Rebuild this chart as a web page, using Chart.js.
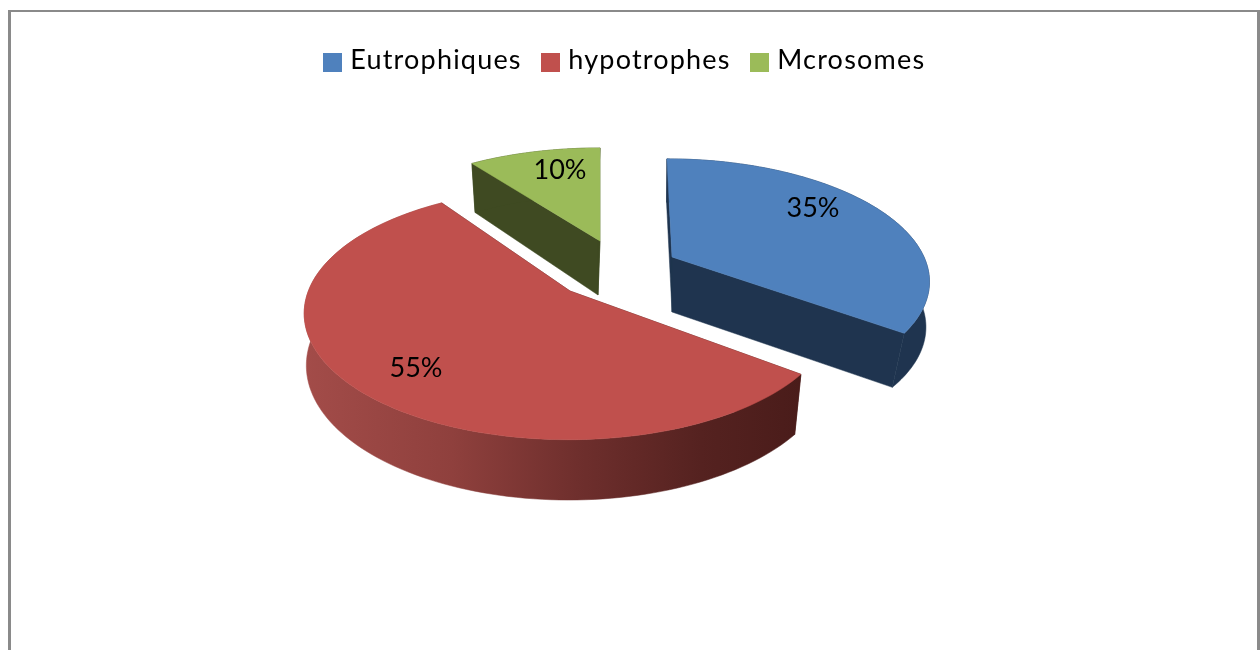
<!DOCTYPE html>
<html>
<head>
<meta charset="utf-8">
<style>html,body{margin:0;padding:0;background:#fff}canvas{display:block}</style>
<script src="https://cdn.jsdelivr.net/npm/chart.js@4"></script>
</head>
<body>
<canvas id="c" width="1260" height="650"></canvas>
<script>
const categories = ["Eutrophiques", "hypotrophes", "Mcrosomes"];
const values = [35, 55, 10];
const labelsText = ["35%", "55%", "10%"];

const sliceColors = ["#4f81bd", "#c0504d", "#9bbb59"];
const wallColors = ["#1f344f", "#4a1c1a", "#3f4a22"];
// projection of each exploded slice onto the page
const views = [
  {cx:672, cy:257, A:252, B:116, p:0.182, lp:0.1,   s:6,  t:0, ox:0,  oy:55, fx:1,    fy:1.04,  label:[813,208]},
  {cx:570, cy:291, A:260, B:121.6, p:0.182, lp:0.14, s:-7, t:4, ox:0,  oy:56, fx:1,    fy:1.082, label:[416,368]},
  {cx:600, cy:241, A:250, B:110, p:0.182, lp:0.182, s:0,  t:0, ox:-2, oy:54, fx:0.96, fy:1.064, label:[560,170]}
];
function proj(v, a, r, lower) {
  const u = Math.cos(a) * r, d = Math.sin(a) * r;
  const k = 1 / (1 - (lower ? v.lp : v.p) * d);
  const fx = lower ? v.fx : 1, fy = lower ? v.fy : 1;
  return [
    v.cx + (lower ? v.ox : 0) + fx * (v.A * u + v.s * d) * k,
    v.cy + (lower ? v.oy : 0) + fy * v.B * d * k + v.t * u
  ];
}
function poly(ctx, pts, fill) {
  ctx.beginPath();
  pts.forEach((q, i) => i ? ctx.lineTo(q[0], q[1]) : ctx.moveTo(q[0], q[1]));
  ctx.closePath();
  ctx.fillStyle = fill;
  ctx.fill();
  ctx.strokeStyle = fill;
  ctx.lineWidth = 0.5;
  ctx.stroke();
}
function arcPts(v, a0, a1, lower) {
  const n = 120, out = [];
  for (let i = 0; i <= n; i++) out.push(proj(v, a0 + (a1 - a0) * i / n, 1, lower));
  return out;
}
// 19px legend swatch, sitting 2px below the legend text's centre line
function swatch(color) {
  const c = document.createElement("canvas");
  c.width = 19; c.height = 23;
  const x = c.getContext("2d");
  x.fillStyle = color;
  x.fillRect(0, 4, 19, 19);
  return c;
}
const pie3d = {
  id: "pie3d",
  beforeLayout(chart) { chart.ctx.letterSpacing = "1.2px"; },
  beforeDraw(chart) {
    const ctx = chart.ctx;
    ctx.save();
    ctx.fillStyle = "#8a8a8a";
    ctx.fillRect(8, 10, 1252, 2);
    ctx.fillRect(8, 10, 3, 640);
    ctx.fillRect(1257, 10, 3, 640);
    ctx.restore();
  },
  beforeDatasetDraw(chart, args) {
    const ctx = chart.ctx;
    const arcs = chart.getDatasetMeta(args.index).data;
    const order = [2, 0, 1];
    ctx.save();
    order.forEach(i => {
      const arc = arcs[i], v = views[i];
      const a0 = arc.startAngle, a1 = arc.endAngle;
      const topApex = proj(v, 0, 0, false), lowApex = proj(v, 0, 0, true);
      const top = arcPts(v, a0, a1, false), low = arcPts(v, a0, a1, true);
      let wall = wallColors[i];
      if (i === 1) {
        const g = ctx.createLinearGradient(303, 0, 800, 0);
        g.addColorStop(0, "#a34c49");
        g.addColorStop(0.3, "#8f403d");
        g.addColorStop(0.55, "#6f2f2d");
        g.addColorStop(0.8, "#552220");
        g.addColorStop(1, "#4a1c1a");
        wall = g;
      }
      poly(ctx, [topApex, top[0], low[0], lowApex], wallColors[i]);
      poly(ctx, [topApex, top[top.length-1], low[low.length-1], lowApex], wallColors[i]);
      poly(ctx, top.concat(low.slice().reverse()), wall);
      poly(ctx, [topApex].concat(top), sliceColors[i]);
    });
    ctx.restore();
    return false;
  },
  afterDatasetsDraw(chart) {
    const ctx = chart.ctx;
    ctx.save();
    ctx.font = "27px Lato";
    ctx.letterSpacing = "0px";
    ctx.fillStyle = "#000";
    ctx.textAlign = "center";
    ctx.textBaseline = "middle";
    labelsText.forEach((t, i) => ctx.fillText(t, views[i].label[0], views[i].label[1]));
    ctx.restore();
  }
};
new Chart(document.getElementById("c"), {
  type: "pie",
  data: {
    labels: categories,
    datasets: [{ data: values, backgroundColor: sliceColors, borderWidth: 0 }]
  },
  plugins: [pie3d],
  options: {
    responsive: false,
    animation: false,
    layout: { padding: { top: 22, right: 6 } },
    plugins: {
      tooltip: { enabled: false },
      legend: {
        position: "top",
        labels: {
          boxWidth: 8, boxHeight: 19, padding: 25,
          usePointStyle: true,
          color: "#000",
          font: { family: "Lato", size: 27 },
          generateLabels(chart) {
            return categories.map((name, i) => ({
              text: name,
              fontColor: "#000",
              fillStyle: sliceColors[i],
              strokeStyle: sliceColors[i],
              lineWidth: 0,
              pointStyle: swatch(sliceColors[i]),
              hidden: false,
              index: i
            }));
          }
        }
      }
    }
  }
});
</script>
</body>
</html>
